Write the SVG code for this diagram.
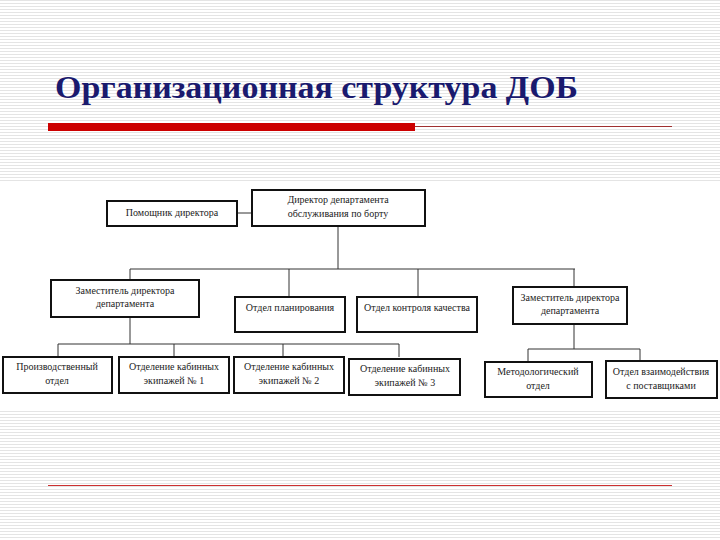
<svg xmlns="http://www.w3.org/2000/svg" width="720" height="540" viewBox="0 0 720 540">
<defs>
<pattern id="st" width="4" height="3" patternUnits="userSpaceOnUse"><rect width="4" height="3" fill="#fff"/><rect y="0" width="4" height="1" fill="#e4e4e4"/></pattern>
<style>
.b{fill:#fff;stroke:#111;stroke-width:2}
.c{fill:none;stroke:#333;stroke-width:1}
.t{font-family:"Liberation Serif",serif;font-size:10px;fill:#222;text-anchor:middle}
</style>
</defs>
<rect width="720" height="540" fill="url(#st)"/>
<text x="55" y="98" font-family="Liberation Serif,serif" font-weight="bold" font-size="32" fill="#1a1a6e" textLength="523" lengthAdjust="spacingAndGlyphs">Организационная структура ДОБ</text>
<rect x="48" y="123" width="367" height="8" fill="#cc0000"/>
<line x1="415" y1="126.5" x2="672" y2="126.5" stroke="#a03030" stroke-width="1"/>
<line x1="48" y1="485.5" x2="672" y2="485.5" stroke="#cc3030" stroke-width="1"/>
<rect x="0" y="183" width="720" height="226" fill="#fff"/>
<g id="connectors" class="c">
<line x1="237" y1="213" x2="252" y2="213"/>
<line x1="338" y1="226" x2="338" y2="269"/>
<line x1="130" y1="269" x2="575" y2="269"/>
<line x1="130" y1="269" x2="130" y2="280"/>
<line x1="289" y1="269" x2="289" y2="297"/>
<line x1="418" y1="269" x2="418" y2="297"/>
<line x1="574" y1="269" x2="574" y2="287"/>
<line x1="130" y1="317" x2="130" y2="344"/>
<line x1="58" y1="344" x2="399" y2="344"/>
<line x1="58" y1="344" x2="58" y2="357"/>
<line x1="174" y1="344" x2="174" y2="357"/>
<line x1="283" y1="344" x2="283" y2="357"/>
<line x1="399" y1="344" x2="399" y2="357"/>
<line x1="574" y1="324" x2="574" y2="349"/>
<line x1="528" y1="349" x2="640" y2="349"/>
<line x1="528" y1="349" x2="528" y2="362"/>
<line x1="640" y1="349" x2="640" y2="361"/>
</g>
<g id="pomoshnik"><rect class="b" x="107" y="201" width="130" height="25"/><text class="t" x="172" y="216">Помощник директора</text></g>
<g id="director"><rect class="b" x="252" y="190" width="173" height="36"/><text class="t" x="338" y="203">Директор департамента</text><text class="t" x="338" y="217">обслуживания по борту</text></g>
<g id="zam1"><rect class="b" x="51" y="280" width="148" height="37"/><text class="t" x="125" y="294">Заместитель директора</text><text class="t" x="125" y="307">департамента</text></g>
<g id="plan"><rect class="b" x="235" y="297" width="110" height="35"/><text class="t" x="290" y="311">Отдел планирования</text></g>
<g id="kontrol"><rect class="b" x="357" y="297" width="120" height="35"/><text class="t" x="417" y="311">Отдел контроля качества</text></g>
<g id="zam2"><rect class="b" x="513" y="287" width="114" height="37"/><text class="t" x="570" y="301">Заместитель директора</text><text class="t" x="570" y="314">департамента</text></g>
<g id="proizv"><rect class="b" x="3" y="357" width="109" height="36"/><text class="t" x="57" y="370">Производственный</text><text class="t" x="57" y="384">отдел</text></g>
<g id="otd1"><rect class="b" x="119" y="357" width="110" height="36"/><text class="t" x="174" y="370">Отделение кабинных</text><text class="t" x="174" y="384">экипажей № 1</text></g>
<g id="otd2"><rect class="b" x="234" y="357" width="110" height="36"/><text class="t" x="289" y="370">Отделение кабинных</text><text class="t" x="289" y="384">экипажей № 2</text></g>
<g id="otd3"><rect class="b" x="349" y="359" width="111" height="36"/><text class="t" x="405" y="372">Отделение кабинных</text><text class="t" x="405" y="386">экипажей № 3</text></g>
<g id="metod"><rect class="b" x="485" y="362" width="107" height="35"/><text class="t" x="538" y="375">Методологический</text><text class="t" x="538" y="389">отдел</text></g>
<g id="vzaim"><rect class="b" x="606" y="361" width="111" height="37"/><text class="t" x="661" y="375">Отдел взаимодействия</text><text class="t" x="661" y="389">с поставщиками</text></g>
</svg>
